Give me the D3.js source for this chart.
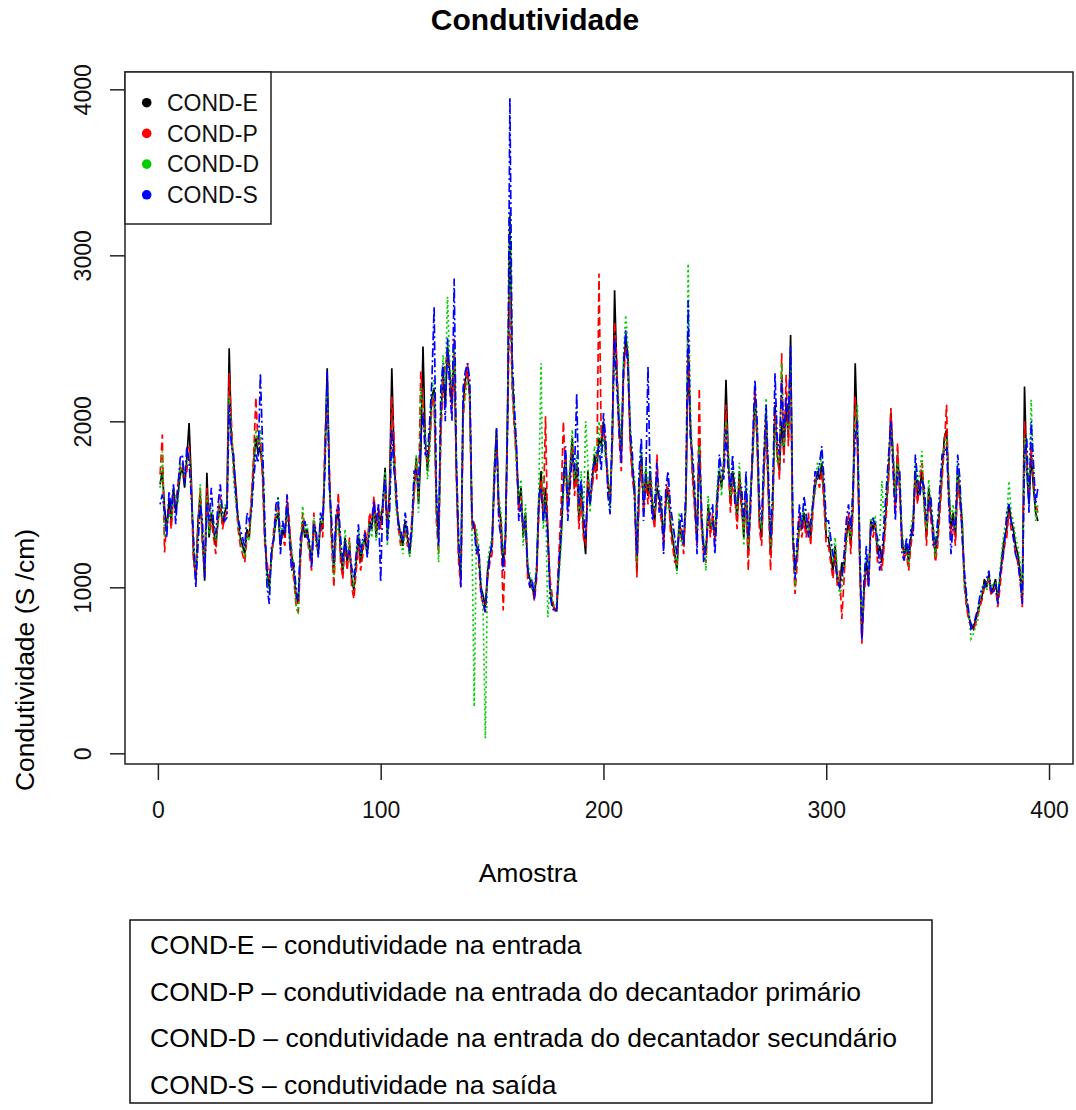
<!DOCTYPE html>
<html>
<head>
<meta charset="utf-8">
<script src="https://cdn.jsdelivr.net/npm/d3@7"></script>
<style>
  html, body { margin: 0; padding: 0; background: #ffffff; }
  svg { display: block; font-family: "Liberation Sans", Arial, sans-serif; }
</style>
</head>
<body>
<svg id="chart" width="1076" height="1110"></svg>
<script>
// Condutividade por amostra (1..395) nos quatro pontos de coleta
const condE = [
  1620,1700,1480,1350,1520,1400,1600,1450,1550,1680, 1720,1600,1780,1990,1650,1200,1050,1400,1560,1300,
  1040,1690,1300,1450,1350,1250,1400,1500,1380,1450, 1500,2440,1900,1750,1600,1400,1300,1250,1200,1350,
  1300,1500,1750,1900,1800,1850,1700,1300,1100,1000, 1200,1300,1400,1450,1250,1350,1300,1500,1350,1200,
  1100,950,900,1200,1400,1300,1350,1250,1150,1400, 1300,1200,1400,1350,1800,2320,1650,1300,1100,1400,
  1450,1200,1100,1300,1150,1250,1050,980,1150,1300, 1150,1250,1300,1200,1400,1350,1500,1300,1450,1400,
  1500,1720,1300,1600,2320,1800,1500,1400,1300,1250, 1400,1300,1200,1350,1600,1780,1500,1800,2450,1900,
  1700,1900,2150,2200,1500,1300,2000,2300,2100,2450, 2300,2100,2400,1700,1200,1050,2100,2250,2300,2150,
  1400,1380,1250,1200,1000,950,880,1100,1200,1250, 1700,1950,1500,1400,1150,1300,2100,3250,2300,2000,
  1800,1500,1600,1300,1450,1100,1050,1000,950,1100, 1500,1700,1400,1600,1350,1000,900,870,860,1100,
  1300,1600,1800,1500,1700,1900,1600,1750,1400,1600, 1350,1200,1700,1500,1650,1800,1700,1900,1850,2000,
  1800,1650,1500,1900,2790,2300,2000,1800,2300,2500, 2400,1900,1700,1600,1100,1600,1800,1500,1700,1550,
  1700,1500,1400,1600,1550,1450,1300,1500,1600,1400, 1300,1200,1100,1400,1300,1250,1500,2400,2000,1700,
  1500,1300,1900,1400,1250,1200,1500,1350,1400,1300, 1550,1700,1600,1750,2250,1800,1500,1700,1600,1400,
  1700,1500,1300,1600,1200,1550,1800,2150,1900,1400, 1300,1700,2050,1600,1200,1500,2100,1800,1700,2000,
  1800,2100,1900,2520,1300,1100,1200,1400,1350,1450, 1350,1400,1300,1500,1600,1700,1650,1750,1550,1300,
  1300,1200,1100,1250,1050,1000,1150,1100,1300,1400, 1250,1500,2350,1900,1200,700,1000,1150,1050,1400,
  1350,1400,1200,1250,1150,1300,1500,1700,2050,1800, 1500,1800,1600,1300,1200,1250,1150,1300,1400,1700,
  1550,1600,1700,1500,1300,1600,1450,1350,1200,1300, 1500,1700,1900,1950,1600,1350,1450,1300,1700,1550,
  1400,1050,900,820,780,750,800,850,900,950, 1050,1000,1080,960,1000,1050,920,1050,1200,1300,
  1350,1500,1400,1350,1250,1200,1100,920,2210,1700, 1500,1800,1600,1450,1400
];
const condP = [
  1680,1920,1210,1400,1480,1350,1560,1500,1620,1720, 1750,1650,1700,1850,1600,1150,1080,1350,1600,1250,
  1080,1600,1350,1400,1300,1200,1450,1550,1350,1420, 1450,2290,2000,1700,1550,1350,1250,1200,1150,1300,
  1350,1550,1800,2145,1850,1900,1650,1250,1150,1050, 1150,1350,1450,1500,1300,1300,1250,1550,1400,1150,
  1050,900,850,1150,1450,1350,1300,1200,1100,1450, 1250,1250,1380,1300,1900,2150,1700,1250,1000,1350,
  1570,1150,1050,1250,1100,1300,1000,930,1100,1250, 1100,1200,1350,1250,1450,1400,1550,1350,1500,1350,
  1450,1650,1350,1550,2150,1900,1550,1350,1250,1300, 1350,1250,1250,1400,1550,1750,1550,2300,2100,1850,
  1750,1850,2100,2150,1400,1200,1900,2250,2350,2400, 2250,2050,2500,1650,1150,1000,2000,2200,2350,2100,
  1350,1400,1300,1150,950,900,850,1050,1150,1200, 1650,1900,1450,1350,860,1250,2000,2800,2200,1950,
  1750,1450,1550,1350,1400,1050,1000,1000,920,1050, 1450,1650,1450,2030,1300,1050,950,850,880,1200,
  1500,2000,1700,1450,1650,1850,1550,1700,1350,1550, 1300,1250,1650,1550,1600,1750,1650,2890,1900,1950,
  1850,1600,1550,1850,2600,2350,1900,1700,2250,2450, 2350,1850,1650,1550,1060,1550,1750,1450,1650,1500,
  1650,1450,1350,1800,1500,1400,1250,1550,1650,1350, 1250,1150,1150,1350,1350,1200,1550,2500,1950,1650,
  1450,1250,2200,1350,1200,1150,1450,1300,1450,1250, 1500,1650,1650,1700,2100,1750,1450,1650,1550,1350,
  1650,1450,1350,1550,1100,1500,1850,2200,1850,1350, 1250,1650,2000,1550,1100,1450,2050,1850,1650,2410,
  1750,2280,1850,2300,1250,960,1150,1450,1300,1400, 1300,1450,1250,1450,1650,1650,1600,1700,1500,1250,
  1250,1150,1050,1200,1000,1100,810,1050,1350,1450, 1200,1450,2150,1850,1150,660,950,1100,1000,1380,
  1300,1380,1150,1200,1100,1250,1450,1650,2080,1750, 1450,1870,1550,1250,1180,1200,1100,1250,1350,1650,
  1500,1650,1750,1550,1250,1550,1400,1300,1150,1250, 1450,1650,1850,2100,1550,1300,1400,1250,1650,1500,
  1350,1000,880,800,760,740,780,830,880,930, 1000,1020,1050,950,980,1000,880,1000,1150,1250,
  1300,1450,1350,1300,1200,1150,1050,880,2000,1750, 1550,1850,1650,1500,1450
];
const condD = [
  1600,1820,1300,1380,1450,1420,1520,1560,1500,1750, 1680,1700,1760,1800,1580,1250,1100,1300,1620,1320,
  1100,1550,1320,1480,1400,1280,1380,1520,1420,1500, 1480,2150,1950,1650,1500,1380,1280,1220,1180,1320,
  1280,1480,1700,1950,1850,1950,1750,1350,1050,950, 1180,1320,1380,1550,1280,1380,1350,1450,1300,1250,
  1120,880,840,1250,1490,1320,1380,1220,1180,1420, 1280,1220,1420,1380,1750,2200,1600,1350,1050,1300,
  1400,1250,1120,1350,1200,1280,1080,1000,1180,1350, 1180,1280,1250,1220,1380,1300,1480,1280,1420,1450,
  1480,1700,1250,1500,1850,1750,1450,1380,1280,1200, 1380,1300,1180,1300,1650,1800,1450,2200,2000,1950,
  1650,1800,2200,2250,1450,1150,2050,2400,2200,2750, 2350,2200,2450,1800,1250,1100,2050,2150,2250,2200,
  1300,280,1350,1250,1050,850,90,1150,1250,1300, 1750,1900,1550,1450,1200,1300,2150,3270,2250,2000,
  1700,1550,1650,1250,1500,1150,1080,980,1000,1150, 1600,2350,1350,1550,820,1000,920,880,900,1050,
  1250,1550,1750,1550,1750,1950,1650,1800,1450,1700, 1400,2000,1750,1450,1700,1850,1750,2000,1800,1900,
  1750,1700,1450,1950,2400,2250,2100,1850,2400,2640, 2450,2000,1750,1650,1150,1650,1850,1550,1750,1600,
  1750,1550,1450,1650,1600,1500,1350,1450,1550,1450, 1350,1250,1080,1450,1250,1300,1450,2950,2100,1750,
  1550,1350,1850,1450,1300,1100,1550,1400,1350,1350, 1600,1750,1550,1800,2000,1850,1550,1750,1650,1450,
  1750,1550,1250,1650,1250,1600,1750,2100,1950,1450, 1350,1750,2140,1650,1250,1550,2000,1750,1750,2350,
  1850,2000,1950,2350,1350,1000,1250,1350,1400,1500, 1400,1350,1350,1550,1550,1750,1700,1800,1600,1350,
  1350,1250,1150,1300,1100,950,1000,1150,1250,1350, 1300,1550,2000,2100,1250,750,1050,1200,1100,1420,
  1400,1420,1250,1300,1640,1350,1550,1750,1950,1850, 1550,1750,1650,1350,1220,1280,1130,1350,1450,1750,
  1600,1700,1820,1450,1350,1650,1500,1400,1180,1350, 1550,1750,1850,1900,1650,1400,1500,1350,1750,1600,
  1450,1000,920,840,690,720,760,800,920,980, 1020,980,1060,1000,1020,1030,950,1100,1250,1350,
  1400,1640,1450,1400,1300,1250,1150,950,1900,1650, 1600,2130,1700,1400,1500
];
const condS = [
  1500,1560,1450,1300,1580,1470,1620,1380,1600,1780, 1800,1620,1850,1750,1550,1300,1000,1250,1500,1400,
  1060,1500,1400,1600,1380,1320,1500,1620,1450,1400, 1420,2100,1850,1800,1550,1420,1350,1300,1240,1450,
  1400,1450,1650,1800,1750,2290,1850,1400,1000,900, 1250,1280,1500,1540,1200,1400,1320,1560,1300,1100,
  1150,1000,920,1300,1350,1400,1300,1280,1120,1380, 1350,1180,1450,1400,1700,2300,1600,1400,1150,1450,
  1500,1300,1150,1280,1180,1220,1120,1050,1200,1380, 1200,1300,1320,1180,1350,1380,1520,1400,1500,1030,
  1550,1650,1280,1450,1950,1700,1600,1350,1350,1280, 1450,1350,1220,1380,1700,1700,1600,1900,2050,1800,
  1800,2000,2250,2690,1600,1250,2200,2350,2000,2500, 2200,2000,2860,1750,1300,1000,2200,2300,2350,2250,
  1420,1350,1200,1250,980,900,850,1080,1180,1280, 1600,1960,1400,1300,1100,1300,2000,3950,2400,2100,
  1850,1400,1500,1350,1400,1120,1000,1050,930,1100, 1550,1600,1400,1500,1300,950,880,850,870,1150,
  1350,1650,1850,1400,1600,1800,1700,2170,1500,1650, 1450,1300,1600,1500,1700,1750,1800,1850,1700,2050,
  1900,1550,1440,2000,2500,2200,1950,1750,2350,2550, 2300,1950,1800,1500,1200,1700,1900,1400,1650,2330,
  1600,1400,1500,1750,1450,1550,1200,1600,1700,1500, 1400,1300,1200,1350,1450,1250,1600,2730,1900,1800,
  1600,1200,1800,1500,1150,1250,1400,1450,1500,1200, 1450,1800,1700,1650,1950,1700,1600,1800,1500,1500,
  1600,1600,1400,1700,1300,1450,1900,2250,2000,1500, 1400,1800,2100,1700,1300,1600,2290,1900,1800,2250,
  1900,2150,2000,2450,1400,1050,1300,1500,1350,1550, 1450,1300,1400,1500,1700,1650,1750,1850,1650,1400,
  1400,1300,1200,1150,1050,1000,1050,1200,1400,1500, 1350,1600,1900,2000,1300,680,1050,1250,1000,1350,
  1420,1350,1300,1100,1200,1400,1600,1800,2000,1700, 1400,1700,1700,1200,1160,1300,1200,1350,1300,1800,
  1650,1550,1650,1600,1400,1500,1550,1250,1250,1400, 1600,1800,1800,1850,1500,1200,1400,1350,1800,1650,
  1300,1100,950,850,750,770,820,870,950,1000, 1000,1050,1100,980,960,1020,900,1080,1150,1250,
  1450,1500,1400,1300,1200,1150,1050,900,1800,1900, 1450,2000,1750,1500,1600
];

const seriesNames = ["COND-E", "COND-P", "COND-D", "COND-S"];
const seriesColors = ["#000000", "#ff0000", "#00cd00", "#0000ff"];
const seriesDash = [null, "8,4", "2,3", "2,3,9,3"];
const xTicks = [0, 100, 200, 300, 400];
const yTicks = [0, 1000, 2000, 3000, 4000];
const noteLines = [
  "COND-E \u2013 condutividade na entrada",
  "COND-P \u2013 condutividade na entrada do decantador primário",
  "COND-D \u2013 condutividade na entrada do decantador secundário",
  "COND-S \u2013 condutividade na saída"
];

const allSeries = [condE, condP, condD, condS];
const n = condE.length;

const svg = d3.select("#chart");
const plot = { left: 125, right: 1073, top: 72, bottom: 764 };

// R-style 4% padding around the data range
const xPad = (n - 1) * 0.04;
const x = d3.scaleLinear().domain([1 - xPad, n + xPad]).range([plot.left, plot.right]);
const yMin = d3.min(allSeries, s => d3.min(s));
const yMax = d3.max(allSeries, s => d3.max(s));
const yPad = (yMax - yMin) * 0.04;
const y = d3.scaleLinear().domain([yMin - yPad, yMax + yPad]).range([plot.bottom, plot.top]);

// series lines, drawn in order so the outlet series ends on top
const line = d3.line().x((d, i) => x(i + 1)).y(d => y(d));
allSeries.forEach((s, k) => {
  svg.append("path")
    .datum(s)
    .attr("d", line)
    .attr("fill", "none")
    .attr("stroke", seriesColors[k])
    .attr("stroke-width", 1.7)
    .attr("stroke-linejoin", "miter")
    .attr("stroke-dasharray", seriesDash[k]);
});

// plot frame
svg.append("rect")
  .attr("x", plot.left).attr("y", plot.top)
  .attr("width", plot.right - plot.left).attr("height", plot.bottom - plot.top)
  .attr("fill", "none").attr("stroke", "#222").attr("stroke-width", 1.5);

// x axis
const xAxis = svg.append("g")
  .attr("transform", `translate(0,${plot.bottom})`)
  .call(d3.axisBottom(x).tickValues(xTicks).tickSize(16).tickSizeOuter(0).tickPadding(22).tickFormat(d3.format("d")));
xAxis.select(".domain").remove();
xAxis.selectAll("line").attr("stroke", "#222").attr("stroke-width", 1.5);
xAxis.selectAll("text").attr("font-size", 23).attr("fill", "#111")
  .attr("font-family", "Liberation Sans, Arial, sans-serif");

// y axis with rotated labels
const yAxis = svg.append("g")
  .attr("transform", `translate(${plot.left},0)`)
  .call(d3.axisLeft(y).tickValues(yTicks).tickSize(15).tickSizeOuter(0).tickFormat(d3.format("d")));
yAxis.select(".domain").remove();
yAxis.selectAll("line").attr("stroke", "#222").attr("stroke-width", 1.5);
yAxis.selectAll("text")
  .attr("x", null).attr("dy", null)
  .attr("text-anchor", "middle")
  .attr("transform", "translate(-34,0) rotate(-90)")
  .attr("font-size", 23).attr("fill", "#111")
  .attr("font-family", "Liberation Sans, Arial, sans-serif");

// titles
svg.append("text")
  .attr("x", 535).attr("y", 30)
  .attr("text-anchor", "middle")
  .attr("font-size", 30).attr("font-weight", "bold")
  .text("Condutividade");

svg.append("text")
  .attr("x", 528).attr("y", 882)
  .attr("text-anchor", "middle")
  .attr("font-size", 26.5)
  .text("Amostra");

svg.append("text")
  .attr("transform", "translate(34,660) rotate(-90)")
  .attr("text-anchor", "middle")
  .attr("font-size", 26.5)
  .text("Condutividade (S /cm)");

// legend inside the plot
const legend = svg.append("g");
legend.append("rect")
  .attr("x", plot.left).attr("y", plot.top)
  .attr("width", 146).attr("height", 152)
  .attr("fill", "#fff").attr("stroke", "#222").attr("stroke-width", 1.5);
seriesNames.forEach((name, k) => {
  const cy = 102.7 + k * 30.7;
  legend.append("circle")
    .attr("cx", 146.7).attr("cy", cy).attr("r", 4.8)
    .attr("fill", seriesColors[k]);
  legend.append("text")
    .attr("x", 167).attr("y", cy + 8.3)
    .attr("font-size", 23).attr("fill", "#111")
    .text(name);
});

// description box below the chart
const note = svg.append("g");
note.append("rect")
  .attr("x", 130).attr("y", 920)
  .attr("width", 802).attr("height", 183)
  .attr("fill", "#fff").attr("stroke", "#111").attr("stroke-width", 1.5);
noteLines.forEach((t, k) => {
  note.append("text")
    .attr("x", 150).attr("y", 954 + k * 46.7)
    .attr("font-size", 26.5).attr("fill", "#000")
    .text(t);
});
</script>
</body>
</html>
